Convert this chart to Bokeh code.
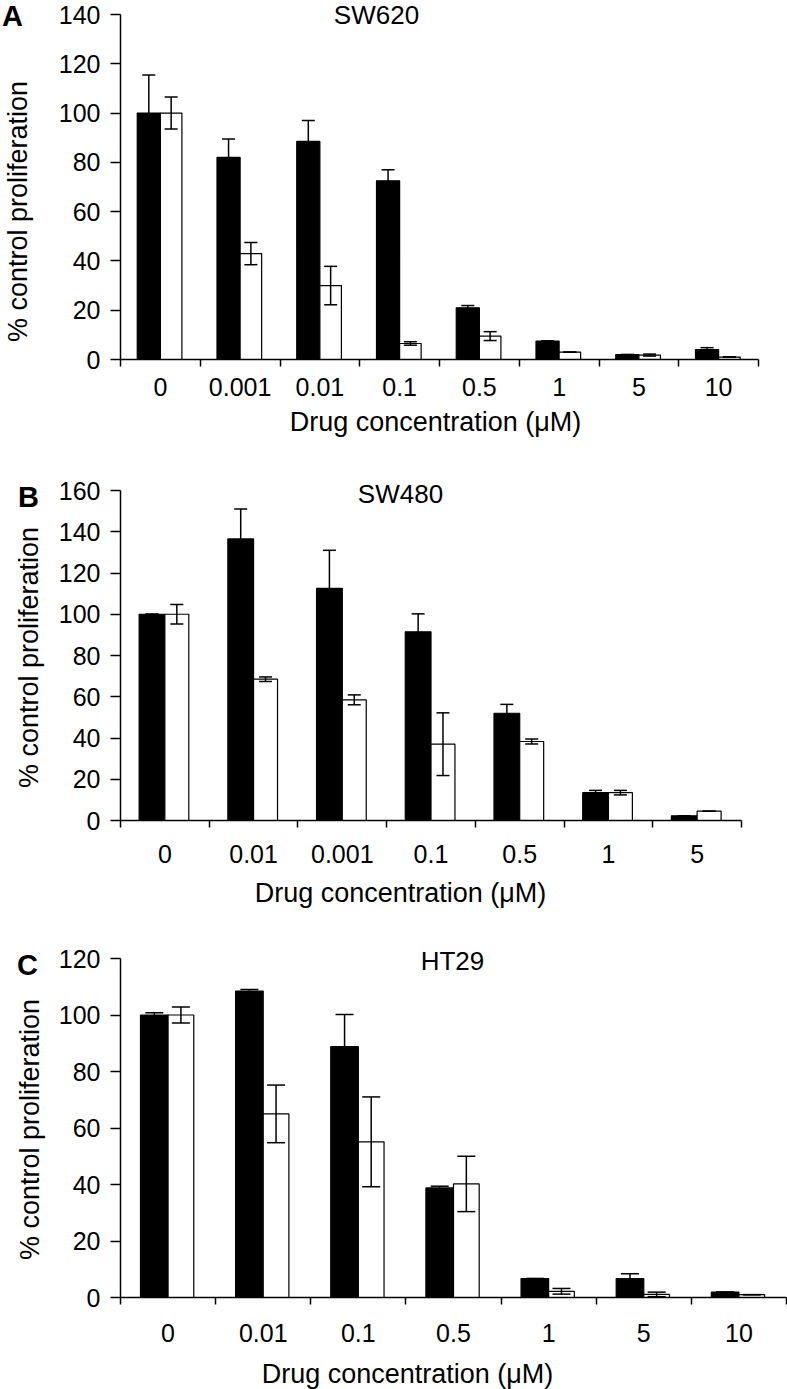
import math
from bokeh.plotting import figure
from bokeh.layouts import column
from bokeh.models import (ColumnDataSource, FixedTicker, Range1d, Whisker, TeeHead,
                          Label, LinearAxis)
from bokeh.embed import file_html
from bokeh.resources import INLINE

FONT = "Liberation Sans"
XLABEL = "Drug concentration (\u03bcM)"
YLABEL = "% control proliferation"

# ---- Panel A : SW620 ----
a_title = "SW620"
a_cats = ["0", "0.001", "0.01", "0.1", "0.5", "1", "5", "10"]
a_black = [100, 82, 88.5, 72.5, 21, 7.5, 2, 4]
a_black_err = [15.5, 7.5, 8.5, 4.5, 0.9, 0, 0, 0.8]
a_white = [100, 43, 30, 6.5, 9.5, 3, 1.8, 1]
a_white_err = [6.5, 4.5, 7.8, 0.7, 1.8, 0, 0.4, 0]

# ---- Panel B : SW480 ----
b_title = "SW480"
b_cats = ["0", "0.01", "0.001", "0.1", "0.5", "1", "5"]
b_black = [100, 136.5, 112.5, 91.5, 52, 13.5, 2.3]
b_black_err = [0, 14.5, 18.5, 8.7, 4.3, 1.1, 0]
b_white = [100, 68.5, 58.5, 37, 38.3, 13.5, 4.5]
b_white_err = [4.7, 1.1, 2.4, 15.2, 1.2, 1.1, 0]

# ---- Panel C : HT29 ----
c_title = "HT29"
c_cats = ["0", "0.01", "0.1", "0.5", "1", "5", "10"]
c_black = [100, 108.5, 88.8, 38.8, 6.7, 6.7, 1.9]
c_black_err = [0.8, 0.5, 11.4, 0.6, 0, 1.7, 0]
c_white = [100, 65, 55.1, 40.2, 2.2, 1.1, 1.0]
c_white_err = [2.8, 10.2, 15.9, 9.8, 1.0, 0.8, 0]

W = 787      # figure width (px)
X0 = 120     # pixel position of the y axis


def make_panel(cats, black, black_err, white, white_err, ymax, letter, title,
               top, h, yt, yb, xr, tick_standoff, cap,
               letter_px, title_px, ylab_px, xlab_px):
    n = len(cats)
    catw = (xr - X0) / n
    ppu = (yb - yt) / ymax

    def dx(px):
        return (px - X0) / catw

    def dy(py):
        return (yb - py) / ppu

    p = figure(width=W, height=h, output_backend="svg", toolbar_location=None,
               x_range=Range1d(dx(0), dx(W)), y_range=Range1d(dy(top + h), dy(top)),
               x_axis_location=None, y_axis_location=None,
               min_border_left=0, min_border_right=0, min_border_top=0, min_border_bottom=0)
    p.outline_line_color = None
    p.grid.visible = False
    p.background_fill_color = "white"
    p.border_fill_color = "white"

    centers = [i + 0.5 for i in range(n)]
    src_b = ColumnDataSource(dict(
        x=[c - 0.145 for c in centers], top=black,
        upper=[v + e for v, e in zip(black, black_err)],
        lower=[v - e for v, e in zip(black, black_err)]))
    src_w = ColumnDataSource(dict(
        x=[c + 0.135 for c in centers], top=white,
        upper=[v + e for v, e in zip(white, white_err)],
        lower=[v - e for v, e in zip(white, white_err)]))

    p.vbar(x="x", top="top", bottom=0, width=0.29, source=src_b,
           fill_color="black", line_color="black", line_width=1.2)
    p.vbar(x="x", top="top", bottom=0, width=0.27, source=src_w,
           fill_color="white", line_color="black", line_width=1.2)
    for src in (src_b, src_w):
        p.add_layout(Whisker(source=src, base="x", upper="upper", lower="lower",
                             level="overlay", line_color="black", line_width=1.5,
                             upper_head=TeeHead(size=cap, line_color="black", line_width=1.5),
                             lower_head=TeeHead(size=cap, line_color="black", line_width=1.5)))

    xa = LinearAxis(fixed_location=0, bounds=(0, n),
                    ticker=FixedTicker(ticks=centers, minor_ticks=list(range(n + 1))))
    xa.major_label_overrides = {c: lab for c, lab in zip(centers, cats)}
    xa.major_tick_line_color = None
    xa.major_tick_out = 0
    xa.major_tick_in = 0
    xa.minor_tick_out = 7
    xa.minor_tick_in = 0
    xa.minor_tick_line_color = "black"
    xa.minor_tick_line_width = 1.5
    xa.axis_line_color = "black"
    xa.axis_line_width = 1.5
    xa.major_label_standoff = tick_standoff
    xa.major_label_text_font = FONT
    xa.major_label_text_font_size = "25px"
    xa.major_label_text_color = "black"
    p.add_layout(xa, "below")

    ya = LinearAxis(fixed_location=0, bounds=(0, ymax),
                    ticker=FixedTicker(ticks=list(range(0, ymax + 1, 20)), minor_ticks=[]))
    ya.major_tick_out = 10
    ya.major_tick_in = 0
    ya.minor_tick_out = 0
    ya.minor_tick_in = 0
    ya.major_tick_line_color = "black"
    ya.major_tick_line_width = 1.5
    ya.axis_line_color = "black"
    ya.axis_line_width = 1.5
    ya.major_label_standoff = 10
    ya.major_label_text_font = FONT
    ya.major_label_text_font_size = "25px"
    ya.major_label_text_color = "black"
    p.add_layout(ya, "left")

    p.add_layout(Label(x=dx(letter_px[0]), y=dy(letter_px[1]), text=letter, text_font=FONT,
                       text_font_style="bold", text_font_size="29px",
                       text_align="center", text_baseline="middle", text_color="black"))
    p.add_layout(Label(x=dx(title_px[0]), y=dy(title_px[1]), text=title, text_font=FONT,
                       text_font_size="26px", text_align="center",
                       text_baseline="middle", text_color="black"))
    p.add_layout(Label(x=dx(ylab_px[0]), y=dy(ylab_px[1]), text=YLABEL, text_font=FONT,
                       text_font_size="27px", text_align="center", angle=math.pi / 2,
                       text_baseline="middle", text_color="black"))
    p.add_layout(Label(x=dx(xlab_px[0]), y=dy(xlab_px[1]), text=XLABEL, text_font=FONT,
                       text_font_size="27px", text_align="center",
                       text_baseline="middle", text_color="black"))
    return p


pA = make_panel(a_cats, a_black, a_black_err, a_white, a_white_err, 140, "A", a_title,
                top=0, h=450, yt=14, yb=359, xr=758, tick_standoff=11, cap=13,
                letter_px=(12, 15), title_px=(376, 14),
                ylab_px=(17, 211), xlab_px=(435, 421))
pB = make_panel(b_cats, b_black, b_black_err, b_white, b_white_err, 160, "B", b_title,
                top=450, h=475, yt=490, yb=820, xr=741, tick_standoff=17, cap=13,
                letter_px=(28, 496), title_px=(400, 493),
                ylab_px=(28, 657), xlab_px=(400, 892))
pC = make_panel(c_cats, c_black, c_black_err, c_white, c_white_err, 120, "C", c_title,
                top=925, h=464, yt=958, yb=1297, xr=786, tick_standoff=19, cap=18,
                letter_px=(27, 964), title_px=(452, 960),
                ylab_px=(29, 1129), xlab_px=(407, 1373))

layout = column(pA, pB, pC)
open("out.html", "w").write(file_html(layout, INLINE))
